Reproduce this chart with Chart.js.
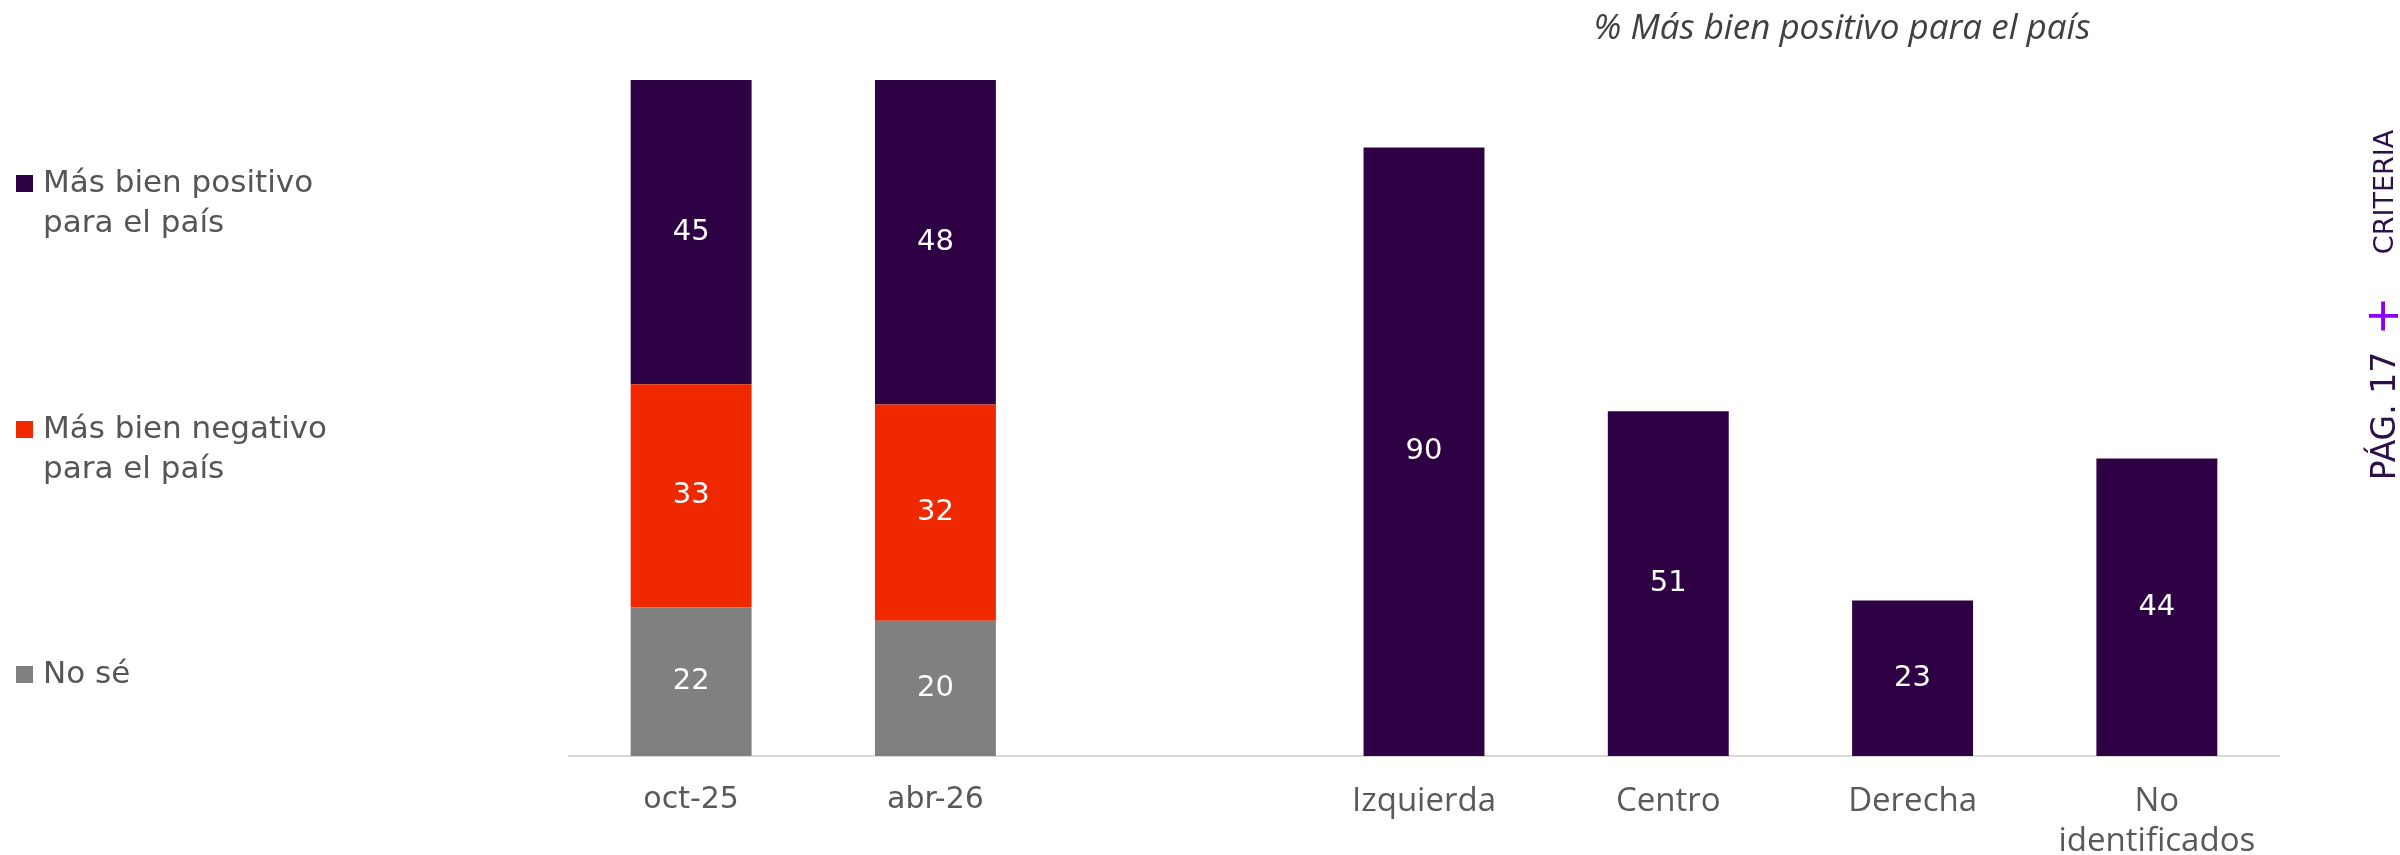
<!DOCTYPE html>
<html lang="es">
<head>
    <meta charset="UTF-8">
    <title>Más bien positivo para el país</title>
    <script src="https://cdn.jsdelivr.net/npm/chart.js"></script>
    <style>
        body { margin: 0; background: #fff; }
        canvas { display: block; }
    </style>
</head>
<body>

    <canvas id="myChart" width="2400" height="855"></canvas>

    <script>
        // Categorías (la tercera está vacía: separa los dos bloques)
        const categories = ["oct-25", "abr-26", "", "Izquierda", "Centro", "Derecha", ["No", "identificados"]];

        // Series (%)
        const positivo = [45, 48, null, 90, 51, 23, 44];
        const negativo = [33, 32, null, null, null, null, null];
        const noSe = [22, 20, null, null, null, null, null];

        const legendLabels = [
            ["Más bien positivo", "para el país"],
            ["Más bien negativo", "para el país"],
            ["No sé"]
        ];
        const chartTitle = "% Más bien positivo para el país";

        const PURPLE = "#2e0044";
        const RED = "#ef2800";
        const GREY = "#808080";

        // etiquetas blancas en el centro de cada barra
        const valueLabels = {
            id: "valueLabels",
            afterDatasetsDraw(chart) {
                const ctx = chart.ctx;
                ctx.save();
                ctx.fillStyle = "#ffffff";
                ctx.font = '29px "DejaVu Sans"';
                ctx.textAlign = "center";
                ctx.textBaseline = "middle";
                chart.data.datasets.forEach((ds, i) => {
                    chart.getDatasetMeta(i).data.forEach((bar, j) => {
                        const v = ds.data[j];
                        if (v == null) return;
                        const p = bar.getProps(["x", "y", "base"], true);
                        ctx.fillText(String(v), p.x, (p.y + p.base) / 2);
                    });
                });
                ctx.restore();
            }
        };

        // leyenda a la izquierda, título y marca lateral
        const extras = {
            id: "extras",
            afterDraw(chart) {
                const ctx = chart.ctx;
                ctx.save();

                // leyenda
                const colors = [PURPLE, RED, GREY];
                const rows = [183, 429, 674];
                ctx.font = '31px "DejaVu Sans"';
                ctx.textAlign = "left";
                ctx.textBaseline = "middle";
                legendLabels.forEach((lines, i) => {
                    ctx.fillStyle = colors[i];
                    ctx.fillRect(16, rows[i] - 8, 17, 17);
                    ctx.fillStyle = "#555555";
                    lines.forEach((line, k) => {
                        ctx.fillText(line, 43, rows[i] + 1 + k * 40);
                    });
                });

                // título del bloque derecho
                ctx.font = 'italic 35px "Open Sans"';
                ctx.fillStyle = "#404040";
                ctx.textAlign = "center";
                ctx.fillText(chartTitle, 1842, 29);

                // texto vertical
                const vtext = (txt, y, font, color) => {
                    ctx.save();
                    ctx.translate(2386, y);
                    ctx.rotate(-Math.PI / 2);
                    ctx.font = font;
                    ctx.fillStyle = color;
                    ctx.textAlign = "center";
                    ctx.textBaseline = "middle";
                    ctx.fillText(txt, 0, 0);
                    ctx.restore();
                };
                vtext("CRITERIA", 192, '27px "DejaVu Sans"', "#2d0f4a");
                vtext("+", 316, '46px "DejaVu Sans"', "#8a00f0");
                vtext("PÁG. 17", 416, '33px "DejaVu Sans"', "#2d0f4a");

                ctx.restore();
            }
        };

        const chart = new Chart(document.getElementById("myChart"), {
            type: "bar",
            data: {
                labels: categories,
                datasets: [
                    { label: "No sé", data: noSe, backgroundColor: GREY },
                    { label: "Más bien negativo para el país", data: negativo, backgroundColor: RED },
                    { label: "Más bien positivo para el país", data: positivo, backgroundColor: PURPLE }
                ]
            },
            options: {
                responsive: false,
                devicePixelRatio: 1,
                animation: false,
                layout: { padding: { left: 569, right: 121, top: 80, bottom: 0 } },
                datasets: { bar: { categoryPercentage: 1, barPercentage: 0.495, borderWidth: 0 } },
                plugins: {
                    legend: { display: false },
                    tooltip: { enabled: false }
                },
                scales: {
                    x: {
                        stacked: true,
                        grid: { display: false, drawTicks: false },
                        border: { display: true, color: "#d9d9d9", width: 2 },
                        ticks: {
                            color: "#595959",
                            padding: 26,
                            maxRotation: 0,
                            autoSkip: false,
                            font: (c) => c.index < 2
                                ? { family: "DejaVu Sans", size: 30 }
                                : { family: "Open Sans", size: 33, lineHeight: 1.2 }
                        },
                        afterFit: (s) => { s.height = 99; }
                    },
                    y: { stacked: true, display: false, min: 0, max: 100 }
                }
            },
            plugins: [valueLabels, extras]
        });
    </script>

</body>
</html>
